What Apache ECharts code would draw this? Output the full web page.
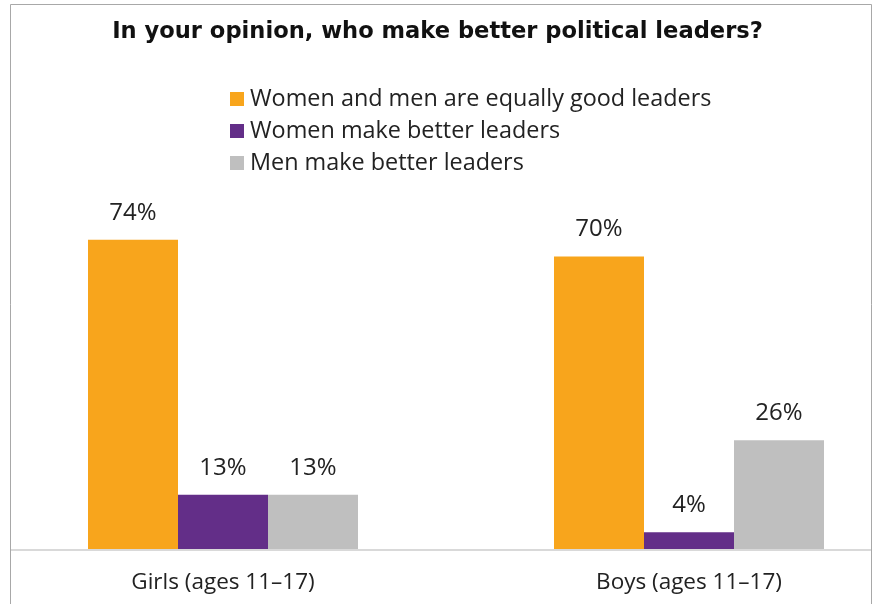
<!DOCTYPE html>
<html>
<head>
<meta charset="utf-8">
<script src="https://cdn.jsdelivr.net/npm/echarts@6/dist/echarts.min.js"></script>
<style>
html,body{margin:0;padding:0;background:#fff;}
#chart{width:875px;height:604px;}
</style>
</head>
<body>
<div id="chart"></div>
<script>
const titleText = 'In your opinion, who make better political leaders?';
const categories = ['Girls (ages 11\u201317)', 'Boys (ages 11\u201317)'];
const seriesNames = ['Women and men are equally good leaders', 'Women make better leaders', 'Men make better leaders'];
const equallyGood = [74, 70];
const womenBetter = [13, 4];
const menBetter = [13, 26];
const colors = ['#F8A51C', '#632E88', '#BFBFBF'];

const FONT = '"Open Sans", "Liberation Sans", Arial, sans-serif';
const TITLE_FONT = '"DejaVu Sans", "Open Sans", Arial, sans-serif';
const chart = echarts.init(document.getElementById('chart'), null, {renderer: 'canvas'});
const values = [equallyGood, womenBetter, menBetter];

chart.setOption({
  animation: false,
  backgroundColor: '#ffffff',
  title: {
    text: titleText,
    left: 'center',
    top: 21,
    padding: 0,
    textStyle: {fontFamily: TITLE_FONT, fontSize: 22.6, fontWeight: 'bold', color: '#111'}
  },
  legend: {
    orient: 'vertical',
    left: 230,
    top: 87,
    padding: 0,
    itemWidth: 14,
    itemHeight: 14,
    itemGap: 8,
    icon: 'rect',
    selectedMode: false,
    textStyle: {fontFamily: FONT, fontSize: 23.4, color: '#222', lineHeight: 24, padding: [0, 0, 0, 1]},
    data: seriesNames
  },
  grid: {left: -10, right: -47, top: 131, bottom: 55, outerBoundsMode: 'none', containLabel: false},
  xAxis: {
    type: 'category',
    data: categories,
    axisLine: {show: false},
    axisTick: {show: false},
    axisLabel: {fontFamily: FONT, fontSize: 22.5, color: '#222', margin: 22}
  },
  yAxis: {
    type: 'value', min: 0, max: 100, show: false, splitLine: {show: false}
  },
  graphic: [
    {type: 'line', shape: {x1: 11, y1: 550, x2: 871, y2: 550}, style: {stroke: '#D9D9D9', lineWidth: 2}, z: 10},
    {type: 'rect', shape: {x: 10.5, y: 4.5, width: 861, height: 700}, style: {fill: null, stroke: '#A8A8A8', lineWidth: 1}, z: 10}
  ],
  series: seriesNames.map((n, i) => ({
    name: n,
    type: 'bar',
    data: values[i],
    barWidth: 90,
    barGap: '0%',
    itemStyle: {color: colors[i]},
    label: {
      show: true, position: 'top', distance: 15,
      formatter: '{c}%',
      fontFamily: FONT, fontSize: 24, color: '#222'
    }
  }))
});
</script>
</body>
</html>
